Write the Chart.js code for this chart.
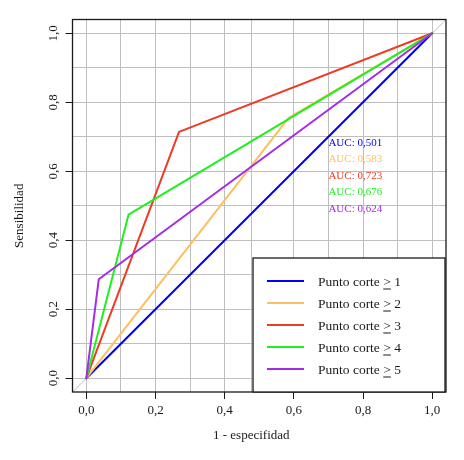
<!DOCTYPE html>
<html>
<head>
<meta charset="utf-8">
<script src="https://cdn.jsdelivr.net/npm/chart.js@4/dist/chart.umd.min.js"></script>
<style>
  html, body { margin: 0; padding: 0; background: #fff; }
  #wrap { width: 464px; height: 460px; position: relative; }
</style>
</head>
<body>
<div id="wrap"><canvas id="roc"></canvas></div>
<script>
// ---- datos (1 - especificidad, sensibilidad) por punto de corte ----
const cutNames = ['1', '2', '3', '4', '5'];
const fprCut1 = [0, 1];
const tprCut1 = [0, 1];
const fprCut2 = [0, 0.585, 1];
const tprCut2 = [0, 0.755, 1];
const fprCut3 = [0, 0.268, 1];
const tprCut3 = [0, 0.714, 1];
const fprCut4 = [0, 0.122, 1];
const tprCut4 = [0, 0.474, 1];
const fprCut5 = [0, 0.036, 1];
const tprCut5 = [0, 0.287, 1];
const refLine = [-0.04, 1.04];

const aucText = ['AUC: 0,501', 'AUC: 0,583', 'AUC: 0,723', 'AUC: 0,676', 'AUC: 0,624'];
const aucX = 0.7;
const aucY = [0.683, 0.635, 0.587, 0.539, 0.49];

const xGrid = [0, 0.1, 0.2, 0.3, 0.4, 0.478, 0.6, 0.7, 0.8, 0.9, 1];
const yGrid = [0, 0.1, 0.2, 0.3, 0.4, 0.5, 0.6, 0.7, 0.8, 0.9, 1];
const tickValues = [0, 0.2, 0.4, 0.6, 0.8, 1];
const tickLabels = ['0,0', '0,2', '0,4', '0,6', '0,8', '1,0'];

const colors = ['#0000ff', '#fdbf5f', '#ee3b24', '#1ef01e', '#a32ce8'];
const SERIF = "'Liberation Serif', 'Times New Roman', serif";

const toPoints = (xs, ys) => xs.map((x, i) => ({ x, y: ys[i] }));
const curves = [
  toPoints(fprCut1, tprCut1),
  toPoints(fprCut2, tprCut2),
  toPoints(fprCut3, tprCut3),
  toPoints(fprCut4, tprCut4),
  toPoints(fprCut5, tprCut5),
];

const isMajor = v => tickValues.some(t => Math.abs(t - v) < 1e-6);
const labelFor = v => {
  const i = tickValues.findIndex(t => Math.abs(t - v) < 1e-6);
  return i >= 0 ? tickLabels[i] : '';
};

const datasets = curves.map((pts, i) => ({
  label: 'Punto corte >= ' + cutNames[i],
  data: pts,
  borderColor: colors[i],
  borderWidth: 2,
  borderCapStyle: 'round',
  borderJoinStyle: 'round',
  pointRadius: 0,
  tension: 0,
  order: 5 - i,
}));
datasets.push({
  label: 'ref',
  data: toPoints(refLine, refLine),
  borderColor: '#bebebe',
  borderWidth: 1,
  pointRadius: 0,
  order: 10,
});

// caja del grafico, leyenda, textos AUC y titulos
const decorations = {
  id: 'decorations',
  afterDatasetsDraw(chart) {
    const { ctx, chartArea: a, scales } = chart;
    ctx.save();
    ctx.strokeStyle = '#1a1a1a';
    ctx.lineWidth = 1.3;
    ctx.strokeRect(a.left, a.top, a.right - a.left, a.bottom - a.top);

    // leyenda
    const lx = 253, lr = a.right - 1, ly = 258, lb = a.bottom;
    ctx.fillStyle = '#fff';
    ctx.fillRect(lx, ly, lr - lx, lb - ly);
    ctx.strokeRect(lx, ly, lr - lx, lb - ly);
    ctx.font = '13.5px ' + SERIF;
    ctx.textBaseline = 'alphabetic';
    cutNames.forEach((n, i) => {
      const ry = ly + 23 + i * 22;
      ctx.strokeStyle = colors[i];
      ctx.lineWidth = 2;
      ctx.beginPath();
      ctx.moveTo(267, ry);
      ctx.lineTo(304, ry);
      ctx.stroke();
      ctx.fillStyle = '#1a1a1a';
      let tx = 318;
      const base = ry + 4.5;
      const p1 = 'Punto corte ';
      ctx.fillText(p1, tx, base);
      tx += ctx.measureText(p1).width;
      const gw = ctx.measureText('>').width;
      ctx.fillText('>', tx, base);
      ctx.strokeStyle = '#1a1a1a';
      ctx.lineWidth = 1;
      ctx.beginPath();
      ctx.moveTo(tx, base + 3.5);
      ctx.lineTo(tx + gw, base + 3.5);
      ctx.stroke();
      ctx.fillText(' ' + n, tx + gw, base);
    });

    // AUC
    ctx.font = '11px ' + SERIF;
    ctx.textBaseline = 'middle';
    ctx.textAlign = 'left';
    aucText.forEach((t, i) => {
      ctx.fillStyle = colors[i];
      ctx.fillText(t, scales.x.getPixelForValue(aucX), scales.y.getPixelForValue(aucY[i]));
    });

    // titulos de ejes
    ctx.fillStyle = '#1a1a1a';
    ctx.font = '13px ' + SERIF;
    ctx.textAlign = 'center';
    ctx.fillText('1 - especifidad', (a.left + a.right) / 2 - 8, a.bottom + 44);
    ctx.translate(20, (a.top + a.bottom) / 2 + 10);
    ctx.rotate(-Math.PI / 2);
    ctx.fillText('Sensibilidad', 0, 0);
    ctx.restore();
  }
};

const gridColor = c => '#bebebe';
const tickColor = c => (c.tick && isMajor(c.tick.value) ? '#1a1a1a' : 'rgba(0,0,0,0)');

new Chart(document.getElementById('roc'), {
  type: 'line',
  data: { datasets },
  options: {
    responsive: true,
    maintainAspectRatio: false,
    animation: false,
    events: [],
    layout: { padding: { top: 19.5, right: 18, left: 0, bottom: 0 } },
    plugins: { legend: { display: false }, tooltip: { enabled: false } },
    scales: {
      x: {
        type: 'linear',
        min: -0.04,
        max: 1.04,
        afterBuildTicks: s => { s.ticks = xGrid.map(v => ({ value: v })); },
        afterFit: s => { s.height = 68; },
        border: { display: false },
        grid: { color: gridColor, lineWidth: 1, drawTicks: true, tickLength: 7, tickColor, tickWidth: 1 },
        ticks: {
          autoSkip: false,
          maxRotation: 0,
          padding: 4,
          color: '#1a1a1a',
          font: { family: SERIF, size: 13, lineHeight: 1.2 },
          callback: v => labelFor(v),
        },
      },
      y: {
        type: 'linear',
        min: -0.04,
        max: 1.04,
        afterBuildTicks: s => { s.ticks = yGrid.map(v => ({ value: v })); },
        afterFit: s => { s.width = 72.5; },
        border: { display: false },
        grid: { color: gridColor, lineWidth: 1, drawTicks: true, tickLength: 7, tickColor, tickWidth: 1 },
        ticks: {
          autoSkip: false,
          minRotation: 90,
          maxRotation: 90,
          crossAlign: 'center',
          padding: 4,
          color: '#1a1a1a',
          font: { family: SERIF, size: 13, lineHeight: 1.2 },
          callback: v => labelFor(v),
        },
      },
    },
  },
  plugins: [decorations],
});
</script>
</body>
</html>
